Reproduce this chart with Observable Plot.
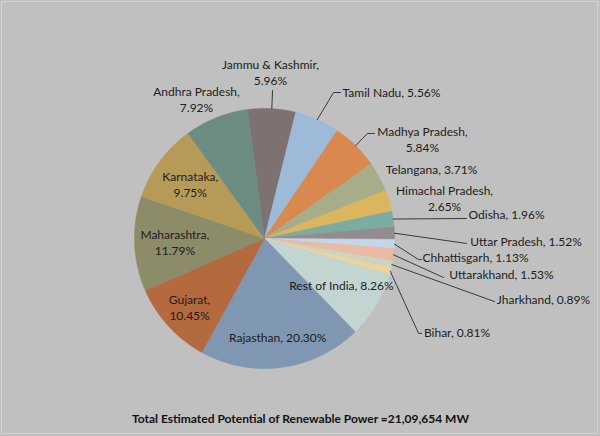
<!DOCTYPE html>
<html><head><meta charset="utf-8">
<script src="https://cdn.jsdelivr.net/npm/d3@7"></script>
<script src="https://cdn.jsdelivr.net/npm/@observablehq/plot@0.6"></script>
<style>
html,body{margin:0;padding:0;background:#c0c0c0;}
#wrap{position:relative;width:600px;height:436px;overflow:hidden;}
#chart svg{display:block;}
#edge{position:absolute;left:1px;top:1px;width:595px;height:431px;border:1px solid #d2d2d2;pointer-events:none;}
</style></head><body><div id="wrap"><div id="chart"></div><div id="edge"></div></div>
<script>
// ---- data ----
const states = ["Jammu & Kashmir","Tamil Nadu","Madhya Pradesh","Telangana","Himachal Pradesh","Odisha","Uttar Pradesh","Chhattisgarh","Uttarakhand","Jharkhand","Bihar","Rest of India","Rajasthan","Gujarat","Maharashtra","Karnataka","Andhra Pradesh"];
const shares = [5.96,5.56,5.84,3.71,2.65,1.96,1.52,1.13,1.53,0.89,0.81,8.26,20.30,10.45,11.79,9.75,7.92];
const colors = ["#7d7271","#9dbad8","#d9884f","#a8ad89","#dcb65c","#7aaca3","#948b8f","#c4d6ea","#ebb9a4","#ccd4c0","#eed49c","#c3d5d0","#7f97b2","#b4693e","#8d8c69","#b59b57","#6c8c82"];
const titleText = "Total Estimated Potential of Renewable Power =21,09,654 MW";

// ---- layout (chart units: pie radius = 1) ----
const startAngle = -7.5;
const labelLayout = {
  "Jammu & Kashmir": {pos:[0.046,1.281], lines:2, leader:[[0.062,1.138]]},
  "Andhra Pradesh": {pos:[-0.523,1.073], lines:2},
  "Tamil Nadu": {pos:[0.977,1.131], lines:1, leader:[[0.531,1.123],[0.585,1.123]]},
  "Madhya Pradesh": {pos:[1.215,0.769], lines:2, leader:[[0.792,0.808],[0.846,0.808]]},
  "Telangana": {pos:[1.285,0.538], lines:1},
  "Himachal Pradesh": {pos:[1.385,0.315], lines:2},
  "Odisha": {pos:[1.862,0.192], lines:1, leader:[[1.554,0.154]]},
  "Uttar Pradesh": {pos:[2.012,-0.015], lines:1, leader:[[1.554,-0.038]]},
  "Chhattisgarh": {pos:[1.623,-0.138], lines:1, leader:[[1.185,-0.162],[1.208,-0.162]]},
  "Uttarakhand": {pos:[1.823,-0.269], lines:1, leader:[[1.377,-0.3]]},
  "Jharkhand": {pos:[2.146,-0.462], lines:1, leader:[[1.769,-0.485]]},
  "Bihar": {pos:[1.481,-0.715], lines:1, leader:[[1.185,-0.73],[1.208,-0.73]]},
  "Rest of India": {inside:0.69, lines:1},
  "Rajasthan": {inside:0.76, lines:1},
  "Gujarat": {inside:0.78, lines:2},
  "Maharashtra": {inside:0.69, lines:2},
  "Karnataka": {inside:0.71, lines:2}
};

const rad = d => d * Math.PI / 180;
const polar = (deg, r) => [r * Math.sin(rad(deg)), r * Math.cos(rad(deg))];

const total = d3.sum(shares);
let acc = 0;
const slices = states.map((name, i) => {
  const a0 = startAngle + acc / total * 360;
  acc += shares[i];
  const a1 = startAngle + acc / total * 360;
  return {name, value: shares[i], a0, a1, mid: (a0 + a1) / 2};
});

const slicePts = slices.flatMap(s => {
  const n = Math.max(2, Math.ceil((s.a1 - s.a0) / 0.5));
  const arr = [{name: s.name, x: 0, y: 0}];
  for (let k = 0; k <= n; k++) {
    const [x, y] = polar(s.a0 + (s.a1 - s.a0) * k / n, 1);
    arr.push({name: s.name, x, y});
  }
  arr.push({name: s.name, x: 0, y: 0});
  return arr;
});

const labels = slices.map(s => {
  const L = labelLayout[s.name];
  const pct = s.value.toFixed(2) + "%";
  const text = L.lines === 2 ? `${s.name},\n${pct}` : `${s.name}, ${pct}`;
  const [x, y] = L.inside ? polar(s.mid, L.inside) : L.pos;
  return {name: s.name, text, x, y};
});

const leaderPts = slices.filter(s => labelLayout[s.name].leader).flatMap(s => {
  const [x0, y0] = polar(s.mid, 1);
  return [{name: s.name, x: x0, y: y0}, ...labelLayout[s.name].leader.map(([x, y]) => ({name: s.name, x, y}))];
});

const W = 600, H = 436, R = 130, CX = 264, CY = 238;
const chart = Plot.plot({
  width: W, height: H,
  marginLeft: CX - R, marginRight: W - (CX + R),
  marginTop: CY - R, marginBottom: H - (CY + R),
  x: {domain: [-1, 1], axis: null},
  y: {domain: [-1, 1], axis: null},
  color: {domain: states, range: colors},
  style: {background: "transparent", fontFamily: "Lato, sans-serif", overflow: "visible"},
  marks: [
    Plot.line(slicePts, {x: "x", y: "y", z: "name", fill: "name", stroke: "name", strokeWidth: 0.6, curve: "linear"}),
    Plot.line(leaderPts, {x: "x", y: "y", z: "name", stroke: "#3a3a3a", strokeWidth: 1, curve: "linear"}),
    Plot.text(labels, {x: "x", y: "y", text: "text", fontSize: 12, fill: "#1c1c1c", lineHeight: 1.35, textAnchor: "middle", lineAnchor: "middle"}),
    Plot.text([titleText], {frameAnchor: "bottom", dx: 36, dy: 51, fontSize: 12, fontWeight: "bold", fill: "#111", lineAnchor: "middle"})
  ]
});
document.getElementById("chart").appendChild(chart);
</script>
</body></html>
